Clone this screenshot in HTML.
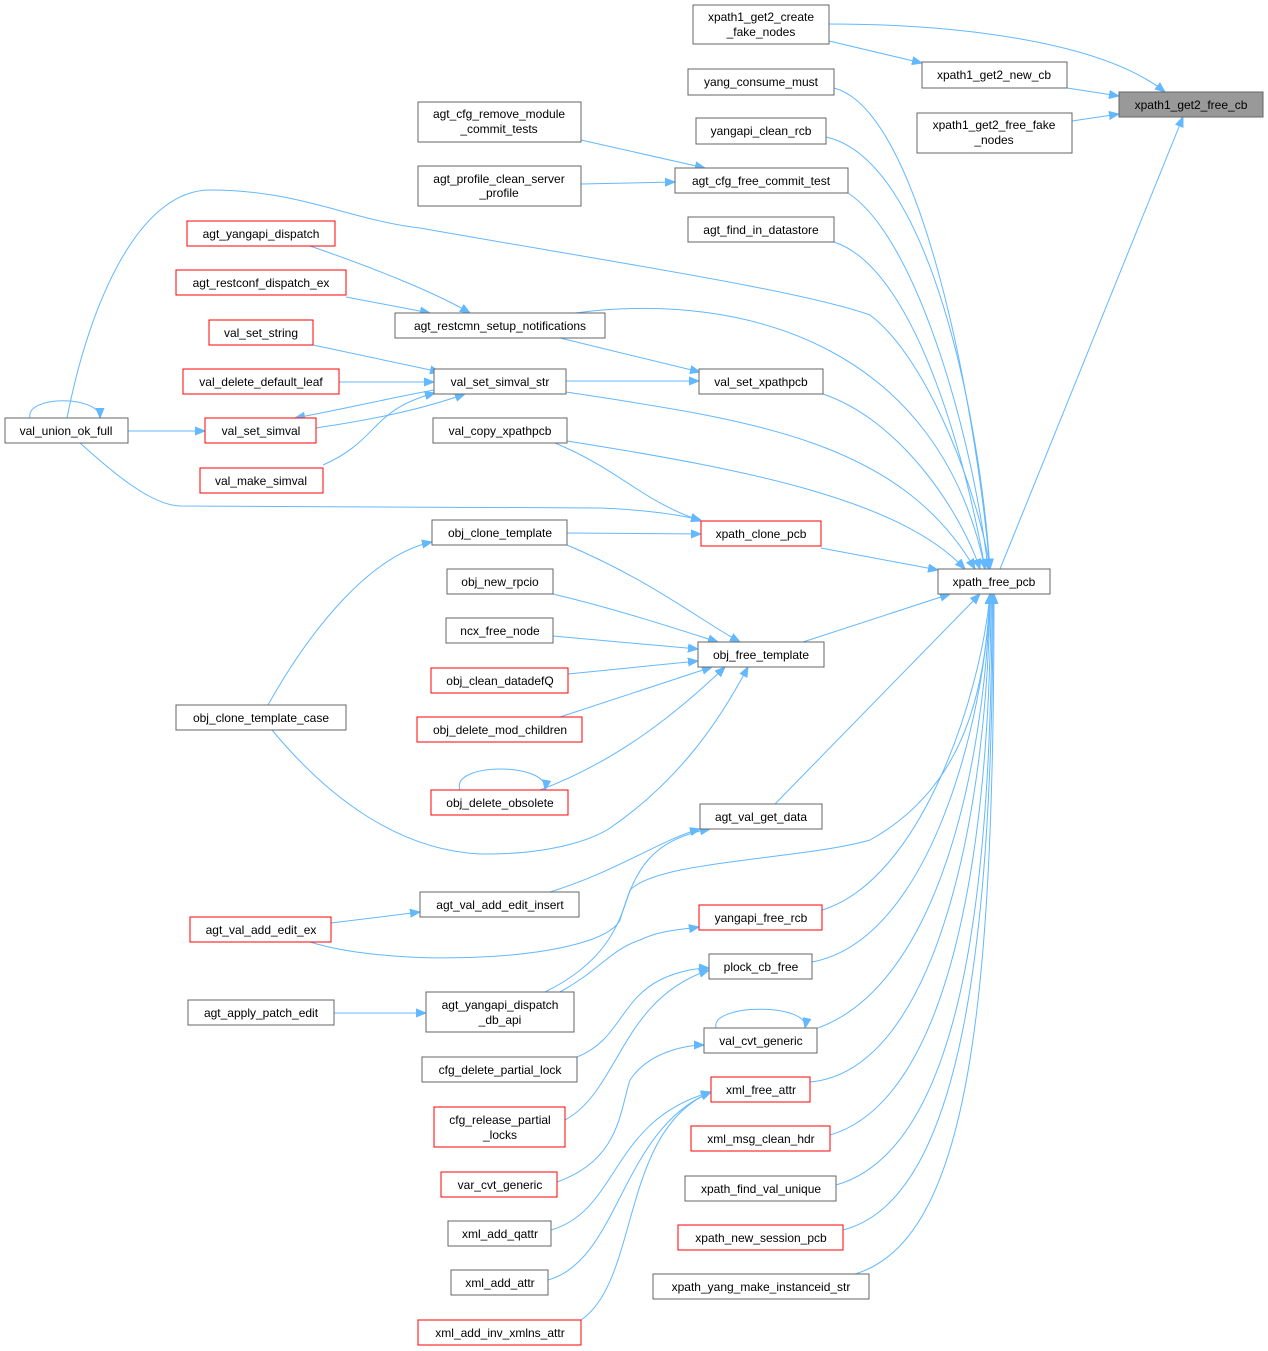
<!DOCTYPE html>
<html><head><meta charset="utf-8"><style>
html,body{margin:0;padding:0;background:#fff;}
svg{display:block;}
text{font-family:"Liberation Sans",Arial,sans-serif;font-size:12px;fill:#000;text-anchor:middle;}
.n{fill:#fff;stroke:#666;stroke-width:1;}
.r{fill:#fff;stroke:#ff0000;stroke-width:1;}
.e{fill:none;stroke:#63b8ff;stroke-width:1;marker-end:url(#a);}
</style></head><body>
<svg width="1268" height="1351" viewBox="0 0 1268 1351" xmlns="http://www.w3.org/2000/svg">
<defs><marker id="a" viewBox="0 0 10 10" refX="10" refY="5" markerWidth="10" markerHeight="10" markerUnits="userSpaceOnUse" orient="auto"><path d="M0,1 L10,5 L0,9 z" fill="#63b8ff" stroke="#63b8ff"/></marker></defs>

<!-- edges -->
<path class="e" d="M829,24 C950,24 1100,40 1165,92"/>
<path class="e" d="M829,41 L922,63"/>
<path class="e" d="M1067,88 L1119,96"/>
<path class="e" d="M1072,121 L1119,114"/>
<path class="e" d="M1000,569 L1183,117"/>
<path class="e" d="M834,88 C920,110 975,400 990,569"/>
<path class="e" d="M826,137 C930,160 980,420 990,569"/>
<path class="e" d="M848,193 C920,240 975,450 988,569"/>
<path class="e" d="M834,242 C920,270 970,480 985,569"/>
<path class="e" d="M67,418 C90,300 140,190 210,190 C300,190 350,220 420,228 C600,260 800,290 870,315 C930,360 980,500 990,569"/>
<path class="e" d="M575,313 C750,290 940,350 985,569"/>
<path class="e" d="M823,394 C900,420 960,510 980,569"/>
<path class="e" d="M566,392 C750,420 900,440 975,569"/>
<path class="e" d="M567,441 C750,470 900,500 965,569"/>
<path class="e" d="M821,548 L938,570"/>
<path class="e" d="M803,642 L950,594"/>
<path class="e" d="M775,804 L980,594"/>
<path class="e" d="M822,910 C920,880 980,700 990,594"/>
<path class="e" d="M812,962 C930,940 985,720 990,594"/>
<path class="e" d="M812,1030 C940,990 985,760 990,594"/>
<path class="e" d="M810,1082 C940,1070 988,800 990,594"/>
<path class="e" d="M830,1135 C950,1100 990,850 991,594"/>
<path class="e" d="M836,1185 C960,1150 992,900 992,594"/>
<path class="e" d="M843,1230 C960,1200 993,950 993,594"/>
<path class="e" d="M855,1274 C970,1240 994,1000 994,594"/>
<path class="e" d="M545,992 C610,960 620,920 630,890 C660,860 800,860 870,840 C960,790 985,700 990,594"/>

<path class="e" d="M581,140 L705,168"/>
<path class="e" d="M581,184 L675,182"/>
<path class="e" d="M310,246 C380,270 440,295 470,313"/>
<path class="e" d="M346,297 L430,313"/>
<path class="e" d="M560,338 L700,372"/>
<path class="e" d="M313,345 L440,372"/>
<path class="e" d="M339,382 L434,382"/>
<path class="e" d="M566,381 L699,381"/>
<path class="e" d="M316,428 C370,420 420,410 465,394"/>
<path class="e" d="M434,390 C380,400 340,410 295,418"/>
<path class="e" d="M323,465 C380,440 370,410 435,393"/>
<path class="e" d="M128,431 L205,431"/>
<path class="e" d="M30,418 C25,395 100,395 100,418"/>
<path class="e" d="M80,443 C110,470 150,505 180,506 L600,508 C650,510 680,515 701,520"/>
<path class="e" d="M555,443 C620,470 640,500 701,521"/>
<path class="e" d="M567,533 L701,534"/>
<path class="e" d="M567,545 C650,580 700,620 740,642"/>
<path class="e" d="M553,594 C620,610 680,630 718,642"/>
<path class="e" d="M553,636 L698,649"/>
<path class="e" d="M568,674 L698,661"/>
<path class="e" d="M560,717 L712,667"/>
<path class="e" d="M540,790 C620,760 680,710 725,667"/>
<path class="e" d="M460,790 C450,762 550,762 545,790"/>
<path class="e" d="M268,705 C310,630 370,555 432,542"/>
<path class="e" d="M272,730 C330,800 400,850 480,854 C560,855 600,835 610,828 C680,780 720,720 748,667"/>
<path class="e" d="M550,892 C620,870 660,840 700,829"/>
<path class="e" d="M331,923 L420,912"/>
<path class="e" d="M310,942 C400,970 600,960 620,920 C635,870 650,840 710,829"/>
<path class="e" d="M560,992 C600,970 610,950 640,940 C660,930 680,930 699,927"/>
<path class="e" d="M334,1013 L426,1013"/>
<path class="e" d="M577,1057 C620,1040 620,1000 660,980 C680,970 700,968 709,968"/>
<path class="e" d="M565,1120 C620,1090 620,1000 709,970"/>
<path class="e" d="M557,1182 C620,1160 620,1110 630,1080 C650,1050 690,1045 704,1045"/>
<path class="e" d="M551,1230 C620,1210 610,1120 711,1092"/>
<path class="e" d="M548,1280 C620,1260 620,1130 711,1092"/>
<path class="e" d="M581,1320 C640,1280 620,1130 711,1092"/>
<path class="e" d="M716,1028 C710,1003 810,1003 805,1028"/>

<!-- nodes -->
<rect x="1119" y="92" width="144" height="25" fill="#999" stroke="#666"/><text x="1191" y="109">xpath1_get2_free_cb</text>
<rect class="n" x="693" y="5" width="136" height="39"/><text x="761" y="21">xpath1_get2_create</text><text x="761" y="36">_fake_nodes</text>
<rect class="n" x="922" y="62" width="145" height="26"/><text x="994" y="79">xpath1_get2_new_cb</text>
<rect class="n" x="917" y="113" width="155" height="40"/><text x="994" y="129">xpath1_get2_free_fake</text><text x="994" y="144">_nodes</text>
<rect class="n" x="688" y="69" width="146" height="26"/><text x="761" y="86">yang_consume_must</text>
<rect class="n" x="696" y="118" width="130" height="26"/><text x="761" y="135">yangapi_clean_rcb</text>
<rect class="n" x="418" y="102" width="163" height="40"/><text x="499" y="118">agt_cfg_remove_module</text><text x="499" y="133">_commit_tests</text>
<rect class="n" x="418" y="166" width="163" height="40"/><text x="499" y="183">agt_profile_clean_server</text><text x="499" y="197">_profile</text>
<rect class="n" x="675" y="168" width="173" height="25"/><text x="761" y="185">agt_cfg_free_commit_test</text>
<rect class="n" x="688" y="217" width="146" height="25"/><text x="761" y="234">agt_find_in_datastore</text>
<rect class="r" x="187" y="221" width="148" height="25"/><text x="261" y="238">agt_yangapi_dispatch</text>
<rect class="r" x="176" y="270" width="170" height="25"/><text x="261" y="287">agt_restconf_dispatch_ex</text>
<rect class="n" x="395" y="313" width="210" height="25"/><text x="500" y="330">agt_restcmn_setup_notifications</text>
<rect class="r" x="209" y="320" width="104" height="25"/><text x="261" y="337">val_set_string</text>
<rect class="r" x="183" y="369" width="156" height="25"/><text x="261" y="386">val_delete_default_leaf</text>
<rect class="n" x="434" y="369" width="132" height="25"/><text x="500" y="386">val_set_simval_str</text>
<rect class="n" x="699" y="369" width="124" height="25"/><text x="761" y="386">val_set_xpathpcb</text>
<rect class="n" x="5" y="418" width="123" height="25"/><text x="66" y="435">val_union_ok_full</text>
<rect class="r" x="205" y="418" width="111" height="25"/><text x="261" y="435">val_set_simval</text>
<rect class="n" x="433" y="418" width="134" height="25"/><text x="500" y="435">val_copy_xpathpcb</text>
<rect class="r" x="200" y="468" width="123" height="25"/><text x="261" y="485">val_make_simval</text>
<rect class="n" x="432" y="520" width="135" height="25"/><text x="500" y="537">obj_clone_template</text>
<rect class="r" x="701" y="521" width="120" height="25"/><text x="761" y="538">xpath_clone_pcb</text>
<rect class="n" x="938" y="569" width="112" height="25"/><text x="994" y="586">xpath_free_pcb</text>
<rect class="n" x="447" y="569" width="106" height="25"/><text x="500" y="586">obj_new_rpcio</text>
<rect class="n" x="446" y="618" width="107" height="25"/><text x="500" y="635">ncx_free_node</text>
<rect class="n" x="698" y="642" width="126" height="25"/><text x="761" y="659">obj_free_template</text>
<rect class="r" x="431" y="668" width="137" height="25"/><text x="500" y="685">obj_clean_datadefQ</text>
<rect class="n" x="176" y="705" width="170" height="25"/><text x="261" y="722">obj_clone_template_case</text>
<rect class="r" x="417" y="717" width="165" height="25"/><text x="500" y="734">obj_delete_mod_children</text>
<rect class="r" x="431" y="790" width="137" height="25"/><text x="500" y="807">obj_delete_obsolete</text>
<rect class="n" x="700" y="804" width="122" height="25"/><text x="761" y="821">agt_val_get_data</text>
<rect class="n" x="420" y="892" width="159" height="25"/><text x="500" y="909">agt_val_add_edit_insert</text>
<rect class="r" x="190" y="917" width="141" height="25"/><text x="261" y="934">agt_val_add_edit_ex</text>
<rect class="r" x="699" y="905" width="123" height="25"/><text x="761" y="922">yangapi_free_rcb</text>
<rect class="n" x="709" y="954" width="103" height="25"/><text x="761" y="971">plock_cb_free</text>
<rect class="n" x="188" y="1000" width="146" height="25"/><text x="261" y="1017">agt_apply_patch_edit</text>
<rect class="n" x="426" y="992" width="148" height="40"/><text x="500" y="1009">agt_yangapi_dispatch</text><text x="500" y="1024">_db_api</text>
<rect class="n" x="704" y="1028" width="113" height="25"/><text x="761" y="1045">val_cvt_generic</text>
<rect class="n" x="422" y="1057" width="155" height="25"/><text x="500" y="1074">cfg_delete_partial_lock</text>
<rect class="r" x="711" y="1077" width="99" height="25"/><text x="761" y="1094">xml_free_attr</text>
<rect class="r" x="434" y="1107" width="131" height="40"/><text x="500" y="1124">cfg_release_partial</text><text x="500" y="1139">_locks</text>
<rect class="r" x="691" y="1126" width="139" height="25"/><text x="761" y="1143">xml_msg_clean_hdr</text>
<rect class="r" x="441" y="1172" width="116" height="25"/><text x="500" y="1189">var_cvt_generic</text>
<rect class="n" x="685" y="1176" width="151" height="25"/><text x="761" y="1193">xpath_find_val_unique</text>
<rect class="n" x="448" y="1221" width="103" height="25"/><text x="500" y="1238">xml_add_qattr</text>
<rect class="r" x="678" y="1225" width="165" height="25"/><text x="761" y="1242">xpath_new_session_pcb</text>
<rect class="n" x="451" y="1270" width="97" height="25"/><text x="500" y="1287">xml_add_attr</text>
<rect class="n" x="653" y="1274" width="216" height="25"/><text x="761" y="1291">xpath_yang_make_instanceid_str</text>
<rect class="r" x="418" y="1320" width="163" height="25"/><text x="500" y="1337">xml_add_inv_xmlns_attr</text>
</svg>
</body></html>
